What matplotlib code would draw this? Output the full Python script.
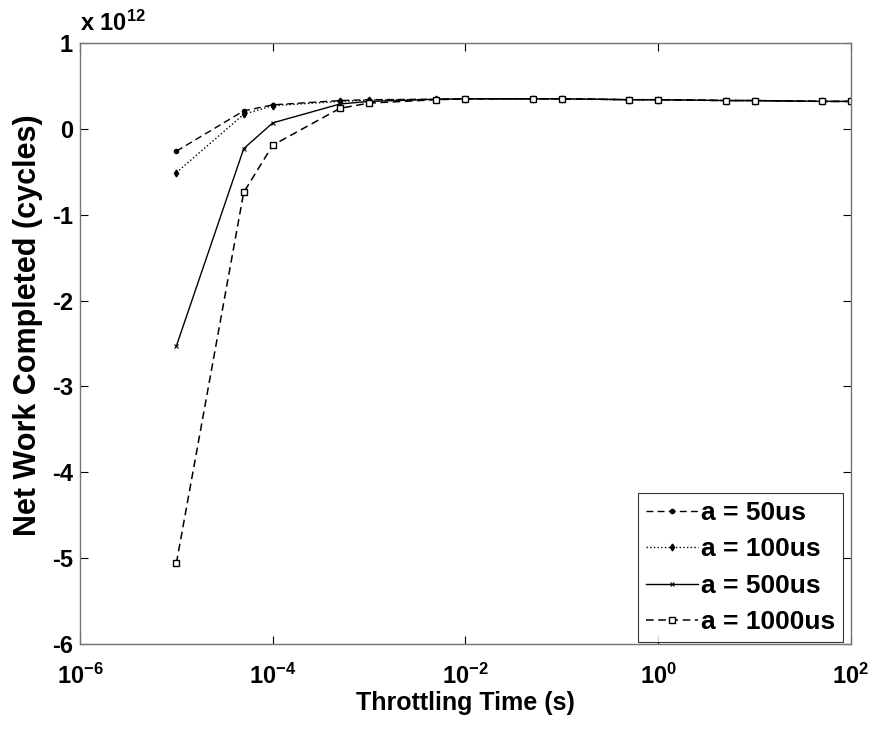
import numpy as np
import matplotlib
matplotlib.use("Agg")
import matplotlib.pyplot as plt
from matplotlib.ticker import FuncFormatter, FixedLocator, NullLocator

# Daten (Werte in Einheiten von 1e12 Zyklen)
scale = 1e12
t = [1e-5, 5e-5, 1e-4, 5e-4, 1e-3, 5e-3, 1e-2, 5e-2, 1e-1, 5e-1, 1, 5, 10, 50, 100]
plateau = [0.35, 0.35, 0.35, 0.34, 0.34, 0.33, 0.33, 0.32, 0.32]
a50 = [-0.26, 0.21, 0.28, 0.33, 0.34, 0.345] + plateau
a100 = [-0.51, 0.17, 0.27, 0.32, 0.335, 0.345] + plateau
a500 = [-2.53, -0.23, 0.07, 0.29, 0.32, 0.345] + plateau
a1000 = [-5.06, -0.74, -0.19, 0.24, 0.30, 0.34] + plateau

labels = ["a = 50us", "a = 100us", "a = 500us", "a = 1000us"]
xticks = [1e-6, 1e-4, 1e-2, 1e0, 1e2]
yticks = [-6, -5, -4, -3, -2, -1, 0, 1]

plt.rcParams['font.family'] = ['Liberation Sans', 'DejaVu Sans']
plt.rcParams['font.weight'] = 'bold'
plt.rcParams['mathtext.fontset'] = 'custom'
plt.rcParams['mathtext.rm'] = 'Liberation Sans:bold'
plt.rcParams['mathtext.bf'] = 'Liberation Sans:bold'
plt.rcParams['mathtext.default'] = 'rm'

fig = plt.figure(figsize=(8.75, 7.38), dpi=100)
ax = fig.add_axes([0.0914, 0.1274, 0.8812, 0.8143])

ax.plot(t, np.array(a50) * scale, color='k', ls=(0, (5, 3)), lw=1.0,
        marker='.', ms=6, label=labels[0])
ax.plot(t, np.array(a100) * scale, color='k', ls=':', lw=1.0,
        marker='d', ms=3.5, label=labels[1])
ax.plot(t, np.array(a500) * scale, color='k', ls='-', lw=1.0,
        marker='x', ms=3.5, mew=0.8, label=labels[2])
ax.plot(t, np.array(a1000) * scale, color='k', ls=(0, (5, 3)), lw=1.1,
        marker='s', ms=5, mfc='white', mew=1.0, label=labels[3])

ax.set_xscale('log')
ax.set_xlim(1e-6, 1e2)
ax.set_ylim(-6 * scale, 1 * scale)
ax.xaxis.set_major_locator(FixedLocator(xticks))
ax.xaxis.set_minor_locator(NullLocator())
ax.set_xticklabels([r'10$^{%d}$' % int(np.log10(v)) for v in xticks])
ax.yaxis.set_major_locator(FixedLocator([v * scale for v in yticks]))
ax.yaxis.set_major_formatter(FuncFormatter(lambda v, p: '%d' % round(v / scale)))

ax.tick_params(direction='in', length=6, width=0.8, labelsize=17,
               top=True, right=True)
ax.tick_params(axis='x', pad=14)
ax.tick_params(axis='y', pad=5)
for sp in ax.spines.values():
    sp.set_color('0.45')
    sp.set_linewidth(1.0)

ax.text(0.0, 1.012, r'x 10$^{12}$', transform=ax.transAxes, fontsize=17,
        fontweight='bold', ha='left', va='bottom')

ax.set_xlabel('Throttling Time (s)', fontsize=18, fontweight='bold', labelpad=2)
ax.set_ylabel('Net Work Completed (cycles)', fontsize=22, fontweight='bold')
ax.yaxis.set_label_coords(-0.048, 0.53)

leg = ax.legend(loc='lower right', bbox_to_anchor=(0.9896, 0.003), fontsize=19,
                frameon=True, fancybox=False, edgecolor='k', borderaxespad=0,
                handlelength=1.95, handletextpad=0.12, labelspacing=0.47,
                borderpad=0.3)
leg.get_frame().set_linewidth(0.8)

fig.savefig('out.png', dpi=100, facecolor='white')
